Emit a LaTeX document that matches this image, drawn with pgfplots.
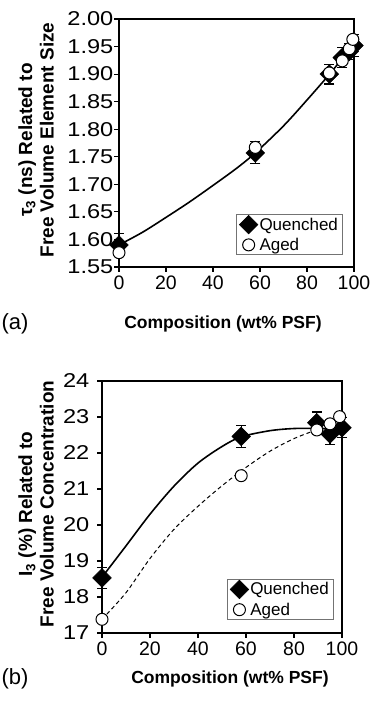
\documentclass[border=0pt]{standalone}
\usepackage{fontspec}
\setmainfont{Liberation Sans}
\usepackage{pgfplots}
\usepackage{pgfplotstable}
\pgfplotsset{compat=1.18}

% tau_3 data (ns)
\pgfplotstableread{
x     y      e
0     1.590  0.020
58    1.757  0.020
89.5  1.900  0.018
95    1.930  0.018
98    1.941  0.015
100   1.952  0.020
}\tauQ
\pgfplotstableread{
x     y
0     1.576
58    1.767
89.5  1.902
95    1.924
98    1.946
99.5  1.963
}\tauA
\pgfplotstableread{
x    y
0    1.590
10   1.613
20   1.640
30   1.668
40   1.698
50   1.729
58   1.757
70   1.806
80   1.853
90   1.902
100  1.955
}\tauFit

% I_3 data (%)
\pgfplotstableread{
x     y      e
0     18.53  0.30
58    22.46  0.30
89.5  22.84  0.30
95    22.53  0.30
100   22.70  0.28
}\intQ
\pgfplotstableread{
x     y
0     17.38
58    21.37
89.5  22.64
95    22.81
99    23.01
}\intA
\pgfplotstableread{
x    y
0    18.55
10   19.42
20   20.30
30   21.08
40   21.72
50   22.18
58   22.45
70   22.62
80   22.68
90   22.68
100  22.66
}\intQFit
\pgfplotstableread{
x    y
0    17.38
10   18.12
20   19.07
30   19.88
40   20.52
50   21.09
60   21.60
70   22.05
80   22.40
90   22.65
100  22.80
}\intAFit

\pgfplotsset{
  psf/.style={
    scale only axis,
    xmin=0, xmax=100,
    xtick={0,20,40,60,80,100},
    tick align=outside, tick pos=left,
    major tick length=5pt,
    axis line style={line width=1.1pt},
    every tick/.style={black, line width=1.1pt},
    xticklabel style={font=\fontsize{19.5}{21}\selectfont},
    yticklabel style={font=\fontsize{20}{21}\selectfont, xscale=1.18},
    /pgf/number format/assume math mode=true,
    clip=false,
    legend cell align=left,
    legend image code/.code={\draw[#1] plot coordinates {(0pt,0pt)};},
    legend style={draw=black!55, line width=0.6pt,
      font=\fontsize{17}{19}\selectfont,
      inner xsep=3pt, inner ysep=1pt, row sep=2pt,
      nodes={inner xsep=1.5pt},
      /tikz/every even column/.append style={column sep=0pt}},
  },
  quen/.style={only marks, mark=square*, mark size=6.6pt,
    mark options={rotate=45, black, line width=0.5pt},
    error bars/.cd, y dir=both, y explicit,
    error bar style={line width=1.1pt, black},
    error mark options={rotate=90, mark size=5pt, line width=1.1pt, black}},
  aged/.style={only marks, mark=*, mark size=6pt,
    mark options={fill=white, draw=black, line width=1pt}},
}

\begin{document}
\begin{tikzpicture}[x=1pt,y=1pt]
\useasboundingbox (0,0) rectangle (372,703);

% ---------- (a) tau_3 ----------
\begin{axis}[psf,
  at={(119pt,436pt)}, anchor=south west,
  width=235pt, height=248pt,
  ymin=1.55, ymax=2.00,
  ytick={1.55,1.60,1.65,1.70,1.75,1.80,1.85,1.90,1.95,2.00},
  yticklabel style={/pgf/number format/fixed, /pgf/number format/fixed zerofill,
    /pgf/number format/precision=2, xshift=3pt},
  legend style={at={(rel axis cs:0.498,0.048)}, anchor=south west},
]
\addplot[black, line width=1.6pt, smooth, forget plot] table[x=x,y=y] {\tauFit};
\addplot[quen] table[x=x,y=y,y error=e] {\tauQ};
\addplot[aged] table[x=x,y=y] {\tauA};
\legend{Quenched, Aged}
\end{axis}

% ---------- (b) I_3 ----------
\begin{axis}[psf,
  at={(102pt,70pt)}, anchor=south west,
  width=240pt, height=252pt,
  ymin=17, ymax=24,
  ytick={17,18,19,20,21,22,23,24},
  yticklabel style={xshift=-3pt},
  legend style={at={(rel axis cs:0.52,0.052)}, anchor=south west},
]
\addplot[black, line width=1.6pt, smooth, forget plot] table[x=x,y=y] {\intQFit};
\addplot[black, line width=1pt, smooth, dash pattern=on 4pt off 3pt, forget plot] table[x=x,y=y] {\intAFit};
\addplot[quen] table[x=x,y=y,y error=e] {\intQ};
\addplot[aged] table[x=x,y=y] {\intA};
\legend{Quenched, Aged}
\end{axis}

% axis titles and panel tags
\node[rotate=90, align=center, font=\bfseries\fontsize{19}{21.5}\selectfont]
  at (36,563) {τ\textsubscript{3} (ns) Related to\\Free Volume Element Size};
\node[font=\bfseries\fontsize{17.5}{20}\selectfont] at (223,379) {Composition (wt\% PSF)};
\node[font=\fontsize{22}{24}\selectfont] at (15,379) {(a)};

\node[rotate=90, align=center, font=\bfseries\fontsize{19}{21.5}\selectfont]
  at (36,199) {I\textsubscript{3} (\%) Related to\\Free Volume Concentration};
\node[font=\bfseries\fontsize{17.5}{20}\selectfont] at (230,24) {Composition (wt\% PSF)};
\node[font=\fontsize{22}{24}\selectfont] at (15,24) {(b)};
\end{tikzpicture}
\end{document}
